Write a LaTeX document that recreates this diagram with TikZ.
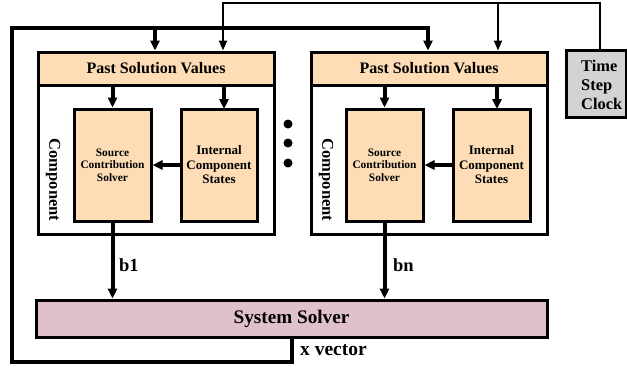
\documentclass[tikz,border=0pt]{standalone}
\usepackage{fontspec}
\setmainfont{Liberation Serif}
\usetikzlibrary{arrows.meta}
\definecolor{peach}{RGB}{253,220,182}
\definecolor{mauve}{RGB}{224,193,203}
\definecolor{clockgray}{RGB}{211,211,211}
\tikzset{
  blk/.style={draw=black, line width=3pt, inner sep=0pt},
  compbox/.style={blk, fill=white},
  psv/.style={blk, fill=peach},
  inner/.style={blk, fill=peach, align=center},
  srcfont/.style={font=\bfseries\fontsize{11.4}{12.5}\selectfont},
  icsfont/.style={font=\bfseries\fontsize{13}{14.5}\selectfont},
  psvfont/.style={font=\bfseries\fontsize{16}{18}\selectfont},
  compfont/.style={font=\bfseries\fontsize{16.5}{18}\selectfont, inner sep=0pt},
  bigarrow/.style={line width=4pt, -{Triangle[length=10pt,width=9pt]}},
  clockline/.style={line width=2pt, -{Triangle[length=10pt,width=8pt]}},
  loopline/.style={line width=4pt},
  lbl/.style={font=\bfseries\fontsize{18.5}{20}\selectfont, inner sep=0pt},
}
\begin{document}
\begin{tikzpicture}[x=1pt, y=-1pt]
\useasboundingbox (0,0) rectangle (627,368);

% ---- first component ----
\node[compbox, minimum width=236pt, minimum height=182pt] (c1) at (156,143) {};
\node[psv, minimum width=236pt, minimum height=33pt] (p1) at (156,68.5) {};
\node[psvfont] (t1) at (p1) {Past Solution Values};
\node[inner, srcfont, minimum width=77pt, minimum height=112pt] (s1) at (112.5,165)
  {Source\\Contribution\\Solver};
\node[inner, icsfont, minimum width=76pt, minimum height=112pt] (i1) at (219,165)
  {Internal\\Component\\States};
\node[rotate=-90, compfont] (n1) at (53,180) {Component};

% ---- n-th component ----
\node[compbox, minimum width=236pt, minimum height=182pt] (c2) at (429,143) {};
\node[psv, minimum width=236pt, minimum height=33pt] (p2) at (429,68.5) {};
\node[psvfont] (t2) at (p2) {Past Solution Values};
\node[inner, srcfont, minimum width=77pt, minimum height=112pt] (s2) at (384.5,165)
  {Source\\Contribution\\Solver};
\node[inner, icsfont, minimum width=77pt, minimum height=112pt] (i2) at (491.5,165)
  {Internal\\Component\\States};
\node[rotate=-90, compfont] (n2) at (326,180) {Component};

% ---- ellipsis dots between the components ----
\foreach \yy/\nm in {124/d1,143/d2,163/d3}
  \fill (288,\yy) circle (4.5pt) coordinate (\nm);

% ---- system solver ----
\node[blk, fill=mauve, minimum width=511pt, minimum height=37pt] (ss) at (291.5,318.5) {};
\node[font=\bfseries\fontsize{19.2}{21}\selectfont, inner sep=0pt] (sst) at (ss) {System Solver};

% ---- time step clock ----
\node[blk, fill=clockgray, minimum width=60pt, minimum height=67pt] (clk) at (596.5,83.5) {};
\node[font=\bfseries\fontsize{16.4}{19}\selectfont, align=left, inner sep=0pt, anchor=west] (clkt) at (581,84.5) {Time\\Step\\Clock};

% ---- internal arrows ----
\draw[bigarrow] (p1.south -| s1.north) -- (s1.north);
\draw[bigarrow] (p1.south -| 224,0) -- (224,109);
\draw[bigarrow] (i1.west) -- (s1.east);
\draw[bigarrow] (p2.south -| s2.north) -- (s2.north);
\draw[bigarrow] (p2.south -| 497,0) -- (497,109);
\draw[bigarrow] (i2.west) -- (s2.east);

% ---- contributions b1 .. bn ----
\draw[bigarrow] (s1.south) -- (s1.south |- ss.north);
\draw[bigarrow] (s2.south) -- (s2.south |- ss.north);
\node[lbl, anchor=west] (b1) at (119,265) {b1};
\node[lbl, anchor=west] (bn) at (393,265) {bn};

% ---- solution vector fed back ----
\coordinate (xb) at (292,362);
\coordinate (xl) at (12,362);
\coordinate (xt) at (12,28);
\draw[loopline] (ss.south -| xb) -- (xb) -- (xl) -- (xt) -- (428,28);
\draw[bigarrow] (428,26) -- (428 ,50.5);
\draw[bigarrow] (155,28) -- (155,50.5);
\node[font=\bfseries\fontsize{19.5}{21}\selectfont, inner sep=0pt, anchor=west] (xv) at (300,350) {x vector};

% ---- clock distribution ----
\draw[line width=2pt] (clk.north -| 600,0) -- (600,3) -- (223,3);
\draw[clockline] (223,2) -- (223,50.5);
\draw[clockline] (498,3) -- (498,50.5);
\end{tikzpicture}
\end{document}
